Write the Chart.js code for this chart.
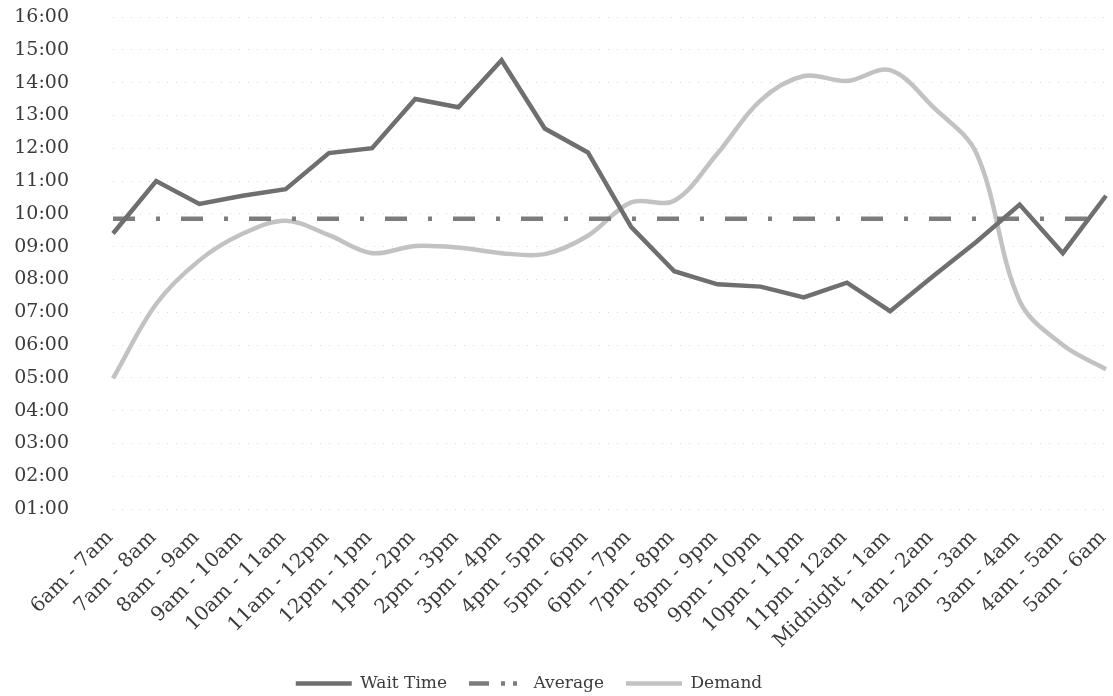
<!DOCTYPE html>
<html>
<head>
<meta charset="utf-8">
<script src="https://cdn.jsdelivr.net/npm/chart.js@4.4.1/dist/chart.umd.min.js"></script>
<style>
    html, body { margin: 0; padding: 0; background: #fff; }
    #wrap { width: 1113px; height: 696px; }
</style>
</head>
<body>
<div id="wrap"><canvas id="chartWait"></canvas></div>
<script>
/* =============================
   DATA
============================= */

const hourLabels = [
    "6am - 7am", "7am - 8am", "8am - 9am", "9am - 10am", "10am - 11am", "11am - 12pm",
    "12pm - 1pm", "1pm - 2pm", "2pm - 3pm", "3pm - 4pm", "4pm - 5pm", "5pm - 6pm",
    "6pm - 7pm", "7pm - 8pm", "8pm - 9pm", "9pm - 10pm", "10pm - 11pm", "11pm - 12am",
    "Midnight - 1am", "1am - 2am", "2am - 3am", "3am - 4am", "4am - 5am", "5am - 6am"
];

// giờ, dạng thập phân (10.5 = 10:30)
const waitTime = [
    9.4, 11.0, 10.3, 10.55, 10.75, 11.85,
    12.0, 13.5, 13.25, 14.68, 12.6, 11.87,
    9.6, 8.25, 7.85, 7.78, 7.45, 7.9,
    7.03, 8.1, 9.15, 10.28, 8.8, 10.55
];

const average = [
    9.85, 9.85, 9.85, 9.85, 9.85, 9.85,
    9.85, 9.85, 9.85, 9.85, 9.85, 9.85,
    9.85, 9.85, 9.85, 9.85, 9.85, 9.85,
    9.85, 9.85, 9.85, 9.85, 9.85, 9.85
];

const demand = [
    4.98, 7.25, 8.58, 9.39, 9.79, 9.35,
    8.8, 9.02, 8.97, 8.8, 8.77, 9.33,
    10.35, 10.4, 11.84, 13.46, 14.2, 14.05,
    14.38, 13.25, 11.84, 7.34, 6.0, 5.26
];

const yMin = 1;
const yMax = 16;

function formatHour(v) {
    const h = Math.round(v);
    return (h < 10 ? "0" + h : "" + h) + ":00";
}

/* =============================
   BIỂU ĐỒ
============================= */

const FONT = "'DejaVu Serif', 'Liberation Serif', serif";
const TEXT = "#3c3c3c";

// nét mẫu trong chú thích (dash + 2 chấm như bản gốc)
const legendDash = {
    "Average": [20, 12, 4, 8, 4, 20]
};

new Chart(document.getElementById("chartWait"), {
    type: "line",
    data: {
        labels: hourLabels,
        datasets: [
            {
                label: "Wait Time",
                data: waitTime,
                borderColor: "#6f6f6f",
                borderWidth: 4.5,
                tension: 0,
                pointRadius: 0
            },
            {
                label: "Average",
                data: average,
                borderColor: "#7c7c7c",
                borderWidth: 4.5,
                borderDash: [22, 21, 4, 21],
                tension: 0,
                pointRadius: 0
            },
            {
                label: "Demand",
                data: demand,
                borderColor: "#c2c2c2",
                borderWidth: 4.5,
                tension: 0.35,
                pointRadius: 0
            }
        ]
    },
    options: {
        responsive: true,
        maintainAspectRatio: false,
        animation: false,
        layout: { padding: { left: 10, right: 7, top: 0, bottom: -6 } },
        plugins: {
            legend: {
                position: "bottom",
                labels: {
                    usePointStyle: true,
                    pointStyle: "line",
                    pointStyleWidth: 56,
                    color: TEXT,
                    padding: 22,
                    font: { family: FONT, size: 17 },
                    generateLabels: function(chart) {
                        const items = Chart.defaults.plugins.legend.labels.generateLabels(chart);
                        items.forEach(it => {
                            it.lineDash = legendDash[it.text] || [];
                            it.lineCap = "butt";
                        });
                        return items;
                    }
                }
            },
            tooltip: { enabled: false }
        },
        scales: {
            x: {
                offset: false,
                grid: { display: false, drawTicks: false },
                border: { display: false },
                ticks: {
                    color: TEXT,
                    font: { family: FONT, size: 20 },
                    maxRotation: 45,
                    minRotation: 45,
                    autoSkip: false,
                    padding: 17,
                    labelOffset: -3
                },
                afterFit: function(scale) {
                    scale.paddingLeft = 0;
                    scale.paddingRight = 0;
                    scale.height = 144;
                }
            },
            y: {
                min: yMin,
                max: yMax,
                border: { display: false, dash: [1, 8] },
                grid: {
                    color: "#d8d8d8",
                    lineWidth: 1,
                    drawTicks: false
                },
                ticks: {
                    stepSize: 1,
                    color: TEXT,
                    font: { family: FONT, size: 19 },
                    padding: 44,
                    callback: function(value) {
                        return formatHour(value);
                    }
                },
                afterFit: function(scale) {
                    scale.width = 103;
                    scale.paddingTop = 17;
                    scale.paddingBottom = 0;
                }
            }
        }
    },
    plugins: [{
        // dời chú thích sang trái cho giống bản gốc
        id: "shiftLegend",
        afterLayout(chart) {
            chart.legend.left -= 29;
            chart.legend.right -= 29;
        }
    }]
});
</script>
</body>
</html>
